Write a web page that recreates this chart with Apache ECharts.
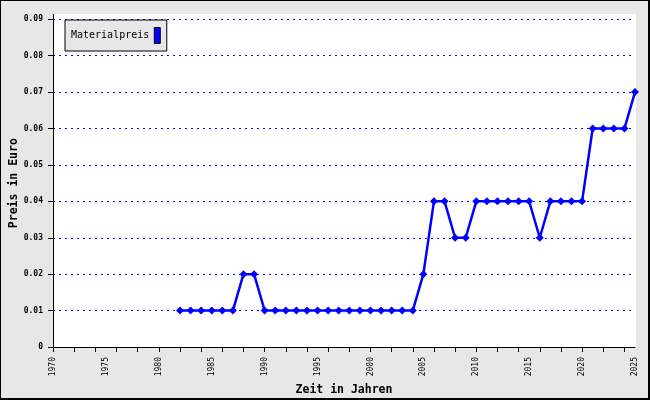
<!DOCTYPE html>
<html>
<head>
<meta charset="utf-8">
<script src="https://cdn.jsdelivr.net/npm/echarts@6/dist/echarts.min.js"></script>
<style>
html,body{margin:0;padding:0;background:#e7e7e7;}
#chart{width:650px;height:400px;}
</style>
</head>
<body>
<div id="chart"></div>
<script>
const years = [1982,1983,1984,1985,1986,1987,1988,1989,1990,1991,1992,1993,1994,1995,1996,1997,1998,1999,2000,2001,2002,2003,2004,2005,2006,2007,2008,2009,2010,2011,2012,2013,2014,2015,2016,2017,2018,2019,2020,2021,2022,2023,2024,2025];
const prices = [0.01,0.01,0.01,0.01,0.01,0.01,0.02,0.02,0.01,0.01,0.01,0.01,0.01,0.01,0.01,0.01,0.01,0.01,0.01,0.01,0.01,0.01,0.01,0.02,0.04,0.04,0.03,0.03,0.04,0.04,0.04,0.04,0.04,0.04,0.03,0.04,0.04,0.04,0.04,0.06,0.06,0.06,0.06,0.07];
const xLabelYears = [1970,1975,1980,1985,1990,1995,2000,2005,2010,2015,2020,2025];
const xTickYears = [1970,1972,1974,1976,1978,1980,1982,1984,1986,1988,1990,1992,1994,1996,1998,2000,2002,2004,2006,2008,2010,2012,2014,2016,2018,2020,2022,2024];
const yTicks = [0,0.01,0.02,0.03,0.04,0.05,0.06,0.07,0.08,0.09];
const seriesName = 'Materialpreis';
const xTitle = 'Zeit in Jahren';
const yTitle = 'Preis in Euro';

const mono = 'DejaVu Sans Mono';
const chart = echarts.init(document.getElementById('chart'), null, {renderer:'canvas'});
chart.setOption({
  animation:false,
  backgroundColor:'#e7e7e7',
  grid:{left:53,right:15,top:19.3,bottom:53,containLabel:false,outerBoundsMode:'none'},
  legend:{
    left:65, top:20, orient:'vertical',
    data:[seriesName],
    icon:'rect', itemWidth:6, itemHeight:16, align:'right',
    padding:[7,6,7,6],
    backgroundColor:'#e7e7e7', borderColor:'#000', borderWidth:1,
    itemStyle:{borderColor:'#000',borderWidth:1},
    textStyle:{fontFamily:mono,fontSize:10,color:'#000'}
  },
  xAxis:{
    type:'value', min:1970, max:2025,
    name:xTitle, nameLocation:'middle', nameGap:37, nameMoveOverlap:false,
    nameTextStyle:{fontFamily:mono,fontWeight:'bold',fontSize:11.5,color:'#000'},
    axisLine:{show:true,onZero:false,lineStyle:{color:'#000',width:1}},
    axisTick:{show:true,length:5,customValues:xTickYears,lineStyle:{color:'#000'}},
    axisLabel:{customValues:xLabelYears,rotate:90,margin:10,fontFamily:mono,fontSize:8,color:'#000',
      formatter:v=>String(v)},
    splitLine:{show:false}
  },
  yAxis:{
    type:'value', min:0, max:0.09, interval:0.01,
    name:yTitle, nameLocation:'middle', nameGap:33, nameMoveOverlap:false,
    nameTextStyle:{fontFamily:mono,fontWeight:'bold',fontSize:11.5,color:'#000'},
    axisLine:{show:true,lineStyle:{color:'#000',width:1}},
    axisTick:{show:true,length:5,lineStyle:{color:'#000'}},
    axisLabel:{customValues:yTicks,margin:10,fontFamily:mono,fontWeight:'bold',fontSize:8,color:'#000',
      formatter:v=> v===0 ? '0' : v.toFixed(2)},
    splitLine:{show:true,lineStyle:{color:'#0000ff',width:1,type:[2,4]}}
  },
  graphic:[
    {type:'rect',z:-10,silent:true,shape:{x:53,y:14,width:583,height:333},style:{fill:'#fff'}},
    {type:'line',z:10,silent:true,shape:{x1:53.5,y1:14,x2:53.5,y2:20},style:{stroke:'#000',lineWidth:1}},
    {type:'rect',z:100,silent:true,shape:{x:0,y:0,width:650,height:1},style:{fill:'#000'}},
    {type:'rect',z:100,silent:true,shape:{x:0,y:0,width:1,height:400},style:{fill:'#000'}},
    {type:'rect',z:100,silent:true,shape:{x:648,y:0,width:2,height:400},style:{fill:'#000'}},
    {type:'rect',z:100,silent:true,shape:{x:0,y:398,width:650,height:2},style:{fill:'#000'}}
  ],
  series:[{
    name:seriesName, type:'line',
    data:years.map((y,i)=>[y,prices[i]]),
    symbol:'diamond', symbolSize:8,
    lineStyle:{color:'#0000ff',width:2.5},
    itemStyle:{color:'#0000ff'}
  }]
});
</script>
</body>
</html>
